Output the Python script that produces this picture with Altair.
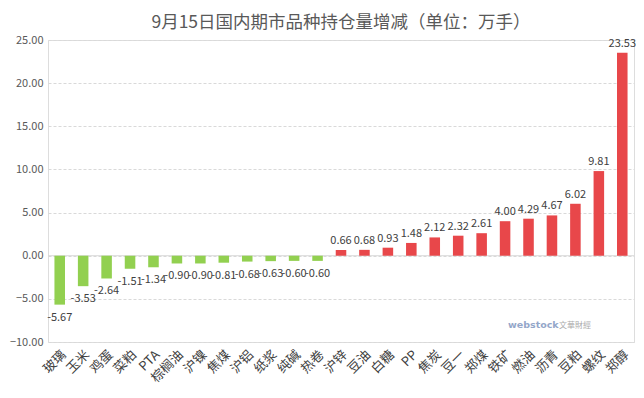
import altair as alt
import pandas as pd

categories = ["玻璃", "玉米", "鸡蛋", "菜粕", "PTA", "棕榈油", "沪镍", "焦煤", "沪铝", "纸浆",
              "纯碱", "热卷", "沪锌", "豆油", "白糖", "PP", "焦炭", "豆一", "郑煤", "铁矿",
              "燃油", "沥青", "豆粕", "螺纹", "郑醇"]
values = [-5.67, -3.53, -2.64, -1.51, -1.34, -0.90, -0.90, -0.81, -0.68, -0.63,
          -0.60, -0.60, 0.66, 0.68, 0.93, 1.48, 2.12, 2.32, 2.61, 4.00,
          4.29, 4.67, 6.02, 9.81, 23.53]
y_ticks = [-10, -5, 0, 5, 10, 15, 20, 25]

df = pd.DataFrame({"品种": categories, "增减": values})
df["sign"] = ["neg" if v < 0 else "pos" for v in values]
df["label"] = [f"{v:.2f}" for v in values]

FONT = "Microsoft YaHei, Noto Sans CJK SC, sans-serif"

x = alt.X("品种:N", sort=categories,
          scale=alt.Scale(paddingInner=0.55, paddingOuter=0.275),
          axis=alt.Axis(title=None, labelAngle=-45, labelFontSize=13, labelColor="#404040",
                        labelFont=FONT, ticks=False, domain=False, labelPadding=6, grid=False))
y = alt.Y("增减:Q", scale=alt.Scale(domain=[-10, 25], nice=False, zero=False),
          axis=alt.Axis(title=None, values=y_ticks, format=".2f", labelFontSize=11,
                        labelColor="#595959", labelFont=FONT, grid=True, gridDash=[3, 2],
                        gridColor="#D9D9D9", ticks=False, domain=False, labelPadding=5))

base = alt.Chart(df)

bars = base.mark_bar().encode(
    x=x, y=y,
    color=alt.Color("sign:N", scale=alt.Scale(domain=["neg", "pos"], range=["#92D050", "#E8474A"]),
                    legend=None),
)

zero = alt.Chart(pd.DataFrame({"z": [0]})).mark_rule(color="#D9D9D9", strokeWidth=1).encode(y="z:Q")

pos_labels = base.transform_filter(alt.datum.增减 >= 0).mark_text(
    dy=-9, fontSize=11, color="#404040", font=FONT).encode(x=alt.X("品种:N", sort=categories), y="增减:Q", text="label:N")
neg_labels = base.transform_filter(alt.datum.增减 < 0).mark_text(
    dy=13, fontSize=11, color="#404040", font=FONT).encode(x=alt.X("品种:N", sort=categories), y="增减:Q", text="label:N")

wm1 = alt.Chart(pd.DataFrame({"t": ["webstock"]})).mark_text(
    fontSize=9.5, fontWeight="bold", color="#3B5E9E", opacity=0.55, align="left", font="Verdana, DejaVu Sans"
).encode(x=alt.value(460), y=alt.value(285), text="t:N")
wm2 = alt.Chart(pd.DataFrame({"t": ["文華財經"]})).mark_text(
    fontSize=8, color="#888888", opacity=0.7, align="left", font=FONT
).encode(x=alt.value(511), y=alt.value(286), text="t:N")

chart = alt.layer(zero, bars, pos_labels, neg_labels, wm1, wm2).properties(
    width=586, height=302,
    title=alt.TitleParams("9月15日国内期市品种持仓量增减（单位：万手）", fontSize=17.5, color="#595959",
                          font=FONT, fontWeight="normal", anchor="middle", offset=3),
    padding={"left": 40, "top": 32, "right": 2, "bottom": 48},
    autosize=alt.AutoSizeParams(type="none"),
).configure_view(stroke=None).configure(background="white")

chart.save("out.html", embed_options={"renderer": "svg", "actions": False})
